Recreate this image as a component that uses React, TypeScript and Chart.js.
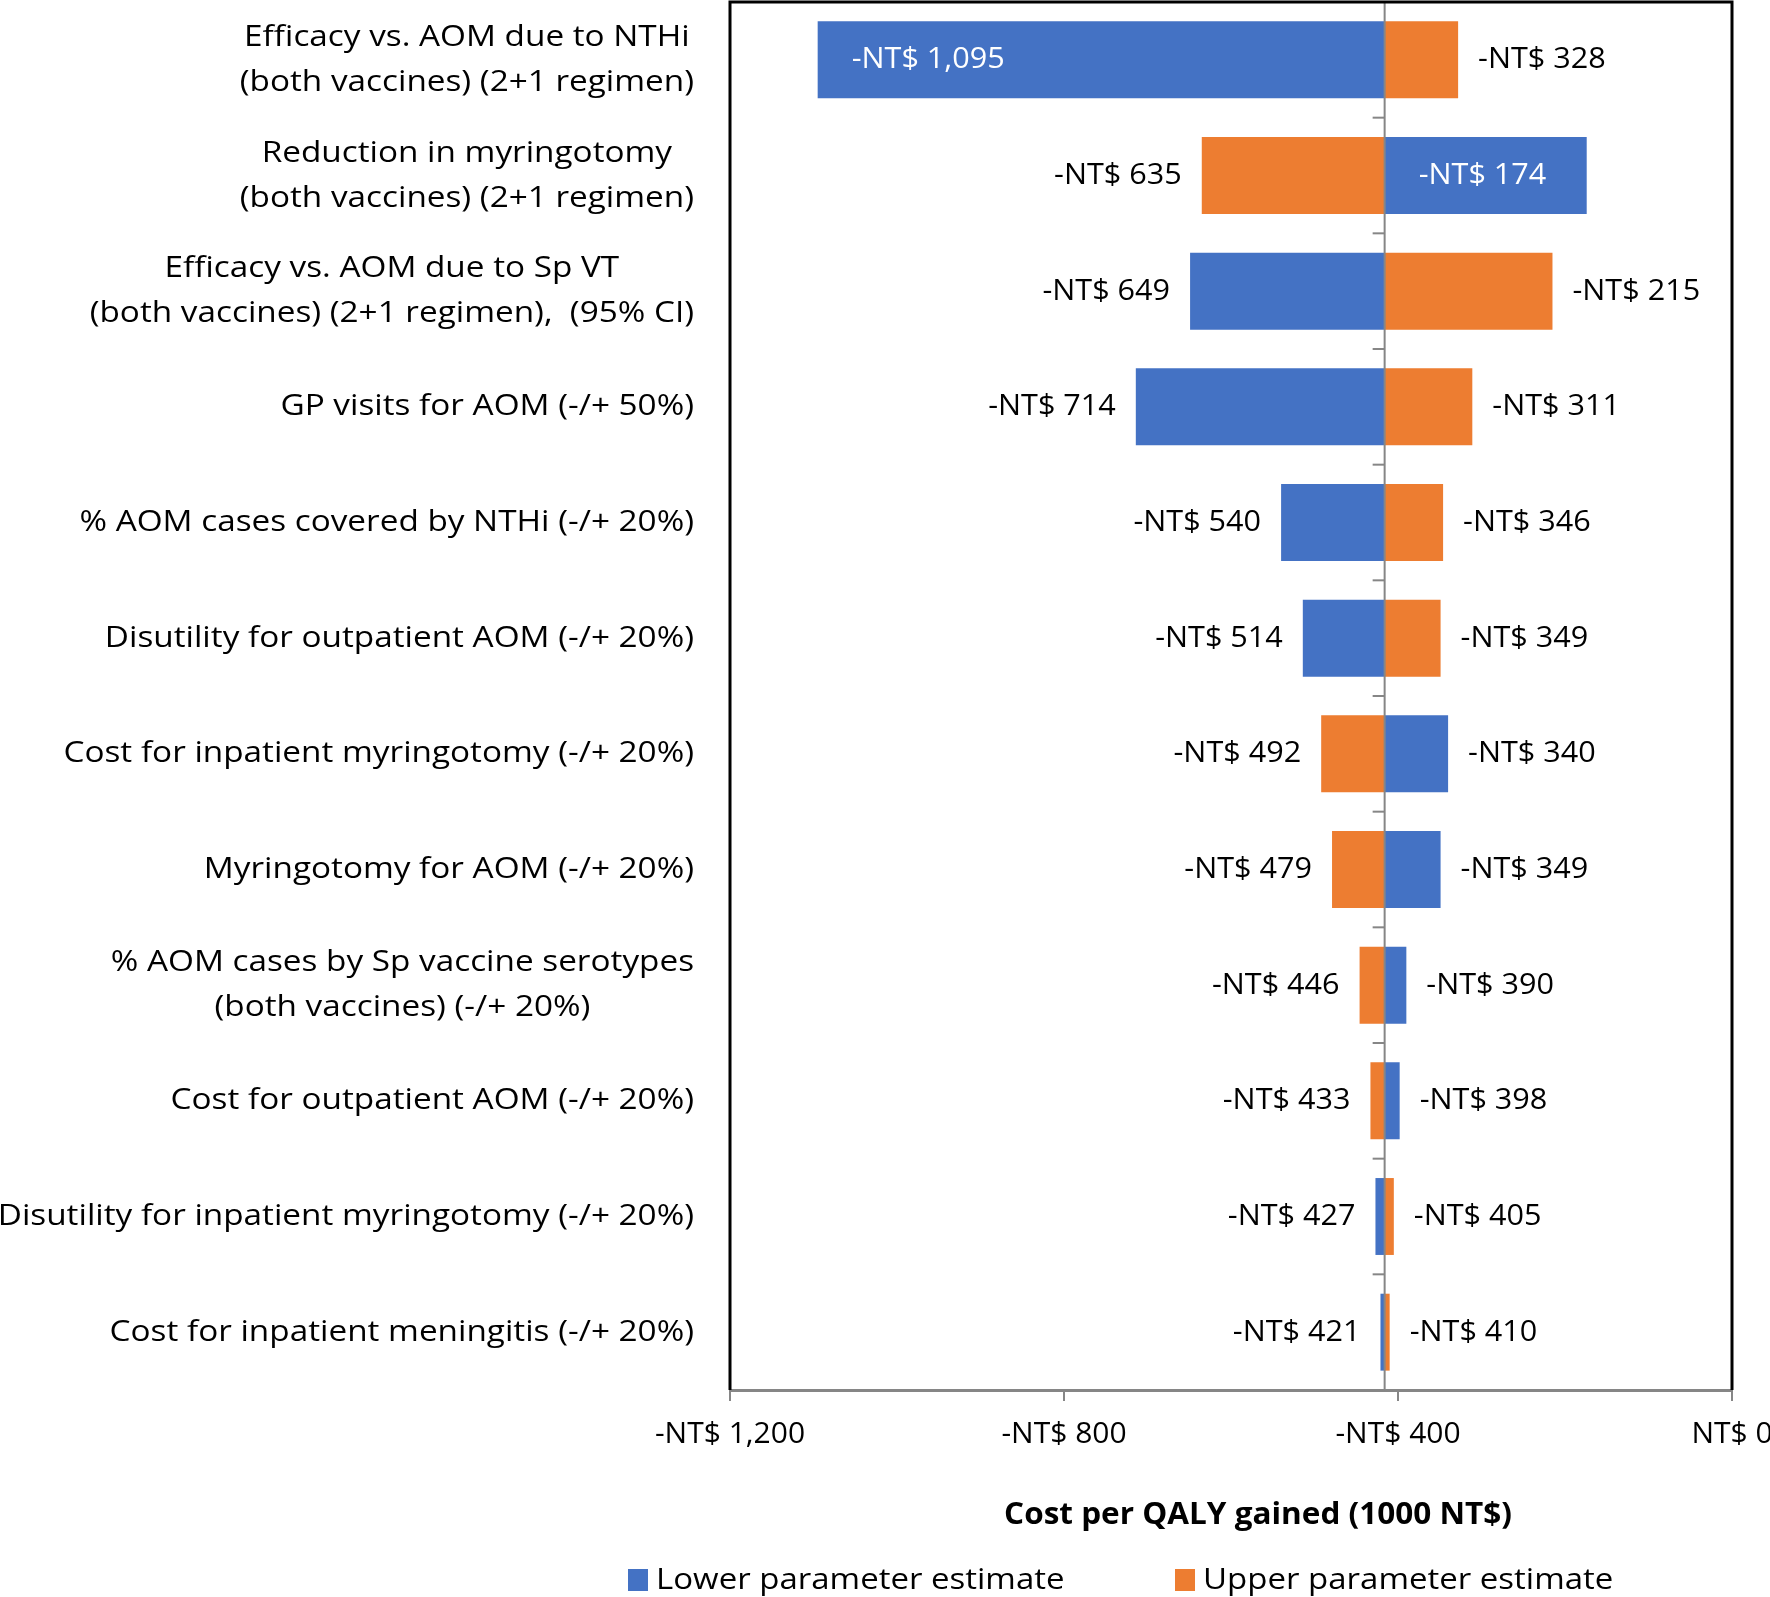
import React, { useEffect, useRef } from "react";
import { Chart, registerables } from "chart.js";

Chart.register(...registerables);

const categories: string[][] = [
  ["Efficacy vs. AOM due to NTHi", "(both vaccines) (2+1 regimen)"],
  ["Reduction in myringotomy", "(both vaccines) (2+1 regimen)"],
  ["Efficacy vs. AOM due to Sp VT", "(both vaccines) (2+1 regimen),  (95% CI)"],
  ["GP visits for AOM (-/+ 50%)"],
  ["% AOM cases covered by NTHi (-/+ 20%)"],
  ["Disutility for outpatient AOM (-/+ 20%)"],
  ["Cost for inpatient myringotomy (-/+ 20%)"],
  ["Myringotomy for AOM (-/+ 20%)"],
  ["% AOM cases by Sp vaccine serotypes", "(both vaccines) (-/+ 20%)"],
  ["Cost for outpatient AOM (-/+ 20%)"],
  ["Disutility for inpatient myringotomy (-/+ 20%)"],
  ["Cost for inpatient meningitis (-/+ 20%)"],
];

const baseValue = -416;
const lowerEstimate = [-1095, -174, -649, -714, -540, -514, -340, -349, -390, -398, -427, -421];
const upperEstimate = [-328, -635, -215, -311, -346, -349, -492, -479, -446, -433, -405, -410];
const lowerLabelInside = [true, true, false, false, false, false, false, false, false, false, false, false];
const xTicks = [-1200, -800, -400, 0];
const seriesNames = ["Lower parameter estimate", "Upper parameter estimate"];
const axisTitle = "Cost per QALY gained (1000 NT$)";

const BLUE = "#4472C4";
const ORANGE = "#ED7D31";
const FONT = "'Open Sans', Lato, sans-serif";
const FS = 30;

const fmtMoney = (v: number) =>
  v === 0 ? "NT$ 0" : (v < 0 ? "-" : "") + "NT$ " + Math.abs(v).toLocaleString("en-US");

function stretchText(
  ctx: CanvasRenderingContext2D,
  text: string,
  x: number,
  y: number,
  align: CanvasTextAlign,
  sx: number
) {
  ctx.save();
  ctx.translate(x, y);
  ctx.scale(sx, 1);
  ctx.textAlign = align;
  ctx.fillText(text, 0, 0);
  ctx.restore();
}

export default function App() {
  const ref = useRef<HTMLCanvasElement | null>(null);

  useEffect(() => {
    if (!ref.current) return;

    const overlay = {
      id: "overlay",
      afterDatasetsDraw(chart: any) {
        const ctx = chart.ctx as CanvasRenderingContext2D;
        const xs = chart.scales.x;
        const ys = chart.scales.y;
        const area = chart.chartArea;
        const n = categories.length;
        const cx = xs.getPixelForValue(baseValue);

        ctx.save();
        // category axis line at base value
        ctx.strokeStyle = "#868686";
        ctx.lineWidth = 2;
        ctx.beginPath();
        ctx.moveTo(cx, area.top);
        ctx.lineTo(cx, area.bottom);
        ctx.stroke();
        for (let i = 0; i <= n; i++) {
          const y = area.top + (i * (area.bottom - area.top)) / n;
          ctx.beginPath();
          ctx.moveTo(cx - 12, y);
          ctx.lineTo(cx, y);
          ctx.stroke();
        }

        // frame
        ctx.strokeStyle = "#000";
        ctx.lineWidth = 3;
        ctx.beginPath();
        ctx.moveTo(area.left, area.bottom);
        ctx.lineTo(area.left, area.top);
        ctx.lineTo(area.right, area.top);
        ctx.lineTo(area.right, area.bottom);
        ctx.stroke();

        // data labels
        ctx.font = `${FS}px ${FONT}`;
        ctx.textBaseline = "middle";
        const series = [lowerEstimate, upperEstimate];
        series.forEach((vals, si) => {
          vals.forEach((v, j) => {
            const px = xs.getPixelForValue(v);
            const py = ys.getPixelForValue(j);
            const txt = fmtMoney(v);
            if (si === 0 && lowerLabelInside[j]) {
              ctx.fillStyle = "#fff";
              stretchText(ctx, txt, Math.min(px, cx) + 34, py, "left", 1.02);
            } else {
              ctx.fillStyle = "#000";
              if (v < baseValue) {
                stretchText(ctx, txt, px - 20, py, "right", 1.02);
              } else {
                stretchText(ctx, txt, px + 20, py, "left", 1.02);
              }
            }
          });
        });

        // category labels (right-aligned block, lines centred)
        const SX = 1.11;
        const rightEdge = area.left - 36;
        const lineH = 45;
        categories.forEach((lines, j) => {
          const py = ys.getPixelForValue(j);
          const maxW = Math.max(...lines.map((l) => ctx.measureText(l).width)) * SX;
          const centreX = rightEdge - maxW / 2;
          ctx.fillStyle = "#000";
          lines.forEach((l, k) => {
            const y = py + (k - (lines.length - 1) / 2) * lineH;
            stretchText(ctx, l, centreX, y, "center", SX);
          });
        });

        // axis title
        ctx.font = `bold ${FS}px ${FONT}`;
        ctx.fillStyle = "#000";
        stretchText(ctx, axisTitle, 1258, 1515, "center", 1.05);

        // legend
        ctx.font = `${FS}px ${FONT}`;
        const legendX = [628, 1175];
        [BLUE, ORANGE].forEach((c, k) => {
          ctx.fillStyle = c;
          ctx.fillRect(legendX[k], 1569, 20, 22);
          ctx.fillStyle = "#000";
          stretchText(ctx, seriesNames[k], legendX[k] + 28, 1580, "left", 1.1);
        });
        ctx.restore();
      },
    };

    const chart = new Chart(ref.current, {
      type: "bar",
      data: {
        labels: categories.map((c) => c.join(" ")),
        datasets: [
          {
            label: seriesNames[0],
            data: lowerEstimate.map((v) => [baseValue, v]) as any,
            backgroundColor: BLUE,
            grouped: false,
            barPercentage: 0.665,
            categoryPercentage: 1,
          } as any,
          {
            label: seriesNames[1],
            data: upperEstimate.map((v) => [baseValue, v]) as any,
            backgroundColor: ORANGE,
            grouped: false,
            barPercentage: 0.665,
            categoryPercentage: 1,
          } as any,
        ],
      },
      options: {
        indexAxis: "y",
        animation: false,
        responsive: false,
        maintainAspectRatio: false,
        layout: { padding: { left: 730, right: 38, top: 2, bottom: 0 } },
        plugins: { legend: { display: false }, tooltip: { enabled: false } },
        scales: {
          x: {
            min: -1200,
            max: 0,
            afterBuildTicks: (s: any) => {
              s.ticks = xTicks.map((v) => ({ value: v }));
            },
            afterFit: (s: any) => {
              s.height = 207;
              s.paddingLeft = 0;
              s.paddingRight = 0;
            },
            grid: { drawOnChartArea: false, tickLength: 11, color: "#868686", lineWidth: 2 },
            border: { color: "#868686", width: 3 },
            ticks: {
              color: "#000",
              font: { family: FONT, size: FS },
              padding: 15,
              maxRotation: 0,
              autoSkip: false,
              callback: (v: any) => fmtMoney(Number(v)),
            },
          },
          y: { display: false },
        },
      } as any,
      plugins: [overlay],
    });
    return () => chart.destroy();
  }, []);

  return (
    <div style={{ position: "absolute", left: 0, top: 0, width: 1770, height: 1597, background: "#fff" }}>
      <canvas ref={ref} width={1770} height={1597} style={{ display: "block", width: 1770, height: 1597 }} />
    </div>
  );
}
